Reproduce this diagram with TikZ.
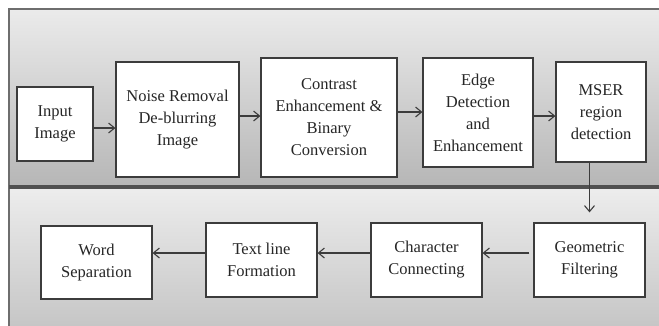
\documentclass[tikz,border=0pt]{standalone}
\usepackage{fontspec}
\setmainfont{Liberation Serif}
\usetikzlibrary{arrows.meta}
\definecolor{boxline}{HTML}{3C3C3C}
\definecolor{panelline}{HTML}{6E6E6E}
\definecolor{sepline}{HTML}{505050}
\definecolor{ptop}{HTML}{EBEBEB}
\definecolor{pbot}{HTML}{B6B6B6}
\definecolor{qtop}{HTML}{EDEDED}
\definecolor{qbot}{HTML}{C2C2C2}
\tikzset{
  stepbox/.style={draw=boxline, line width=1.2pt, fill=white, align=center,
    inner sep=0pt, font=\fontsize{16.5}{22}\selectfont, text=black!85},
  arr/.style={draw=boxline, line width=1.1pt, -{Straight Barb[length=6pt,width=10pt]}},
}
\begin{document}
\begin{tikzpicture}[x=1pt,y=-1pt]
\clip (0,0) rectangle (659,325);
% panels
\shade[top color=ptop, bottom color=pbot] (9,9) rectangle (670,187);
\shade[top color=qtop, bottom color=qbot] (9,187) rectangle (670,340);
\draw[panelline, line width=2pt] (9,340) -- (9,9) -- (670,9);
\draw[sepline, line width=3.5pt] (9,187) -- (670,187);
% top row
\node[stepbox, minimum width=76pt, minimum height=74pt] (in) at (55,124) {Input\\Image};
\node[stepbox, minimum width=123pt, minimum height=115pt] (nr) at (177.5,119.5) {Noise Removal\\De-blurring\\Image};
\node[stepbox, minimum width=136pt, minimum height=119pt] (ce) at (329,117.5) {Contrast\\Enhancement \&\\Binary\\Conversion};
\node[stepbox, minimum width=110pt, minimum height=109pt] (ed) at (478,112.5) {Edge\\Detection\\and\\Enhancement};
\node[stepbox, minimum width=90pt, minimum height=100pt] (ms) at (601,112) {MSER\\region\\detection};
% bottom row
\node[stepbox, minimum width=111pt, minimum height=73pt] (ws) at (96.5,262.5) {Word\\Separation};
\node[stepbox, minimum width=111pt, minimum height=74pt] (tl) at (261.5,260) {Text line\\Formation};
\node[stepbox, minimum width=111pt, minimum height=74pt] (cc) at (426.5,260) {Character\\Connecting};
\node[stepbox, minimum width=111pt, minimum height=74pt] (gf) at (589.5,260) {Geometric\\Filtering};
% connectors
\draw[arr] (in.east |- 0,128) -- (nr.west |- 0,128);
\draw[arr] (nr.east |- 0,116) -- (ce.west |- 0,116);
\draw[arr] (ce.east |- 0,112) -- (ed.west |- 0,112);
\draw[arr] (ed.east |- 0,116) -- (ms.west |- 0,116);
\draw[arr, shorten >=10pt] (ms.south -| gf.north) -- (gf.north);
\draw[arr, shorten <=4pt] (gf.west |- 0,253) -- (cc.east |- 0,253);
\draw[arr] (cc.west |- 0,253) -- (tl.east |- 0,253);
\draw[arr] (tl.west |- 0,253) -- (ws.east |- 0,253);
\end{tikzpicture}
\end{document}
